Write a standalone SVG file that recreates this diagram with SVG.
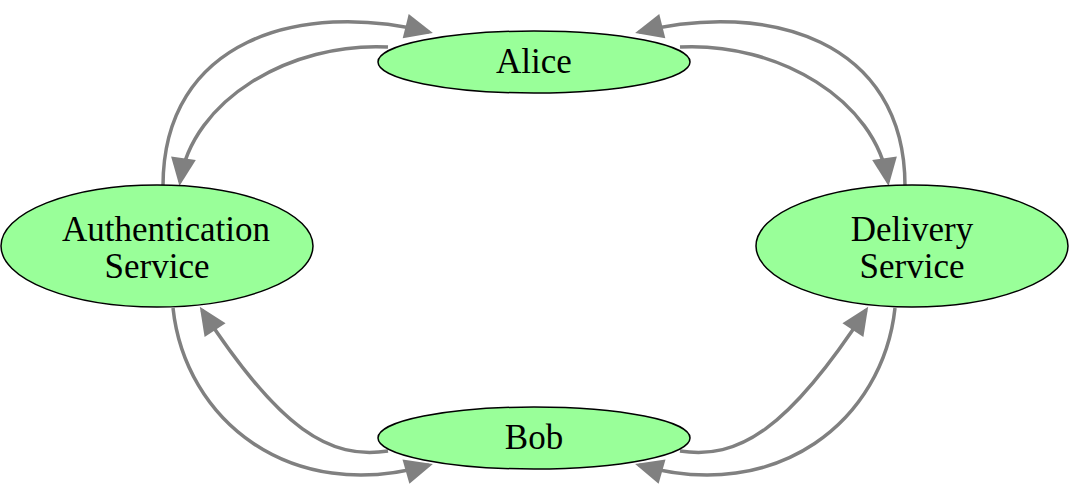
<svg xmlns="http://www.w3.org/2000/svg" width="1080" height="497" viewBox="0 0 1080 497">
<style>
.node ellipse{fill:#99ff99;stroke:#000;stroke-width:1.5}
.node text{font-family:"Liberation Serif","DejaVu Serif",serif;font-size:35px;fill:#000;text-anchor:middle}
.edge{fill:none;stroke:#808080;stroke-width:3.5}
</style>
<defs>
<marker id="arr" markerUnits="userSpaceOnUse" markerWidth="40" markerHeight="40" viewBox="-30 -15 40 30" refX="0" refY="0" orient="auto" overflow="visible">
<path d="M-24,-12.5 L4,0 L-24,12.5 Z" fill="#808080"/>
</marker>
</defs>
<g id="connectors">
<path class="edge" marker-end="url(#arr)" d="M163,186 C163,40 300,0 429,32"/>
<path class="edge" marker-end="url(#arr)" d="M388,47 C290,42 192,100 180,182"/>
<path class="edge" marker-end="url(#arr)" d="M905,186 C905,40 768,0 639,32"/>
<path class="edge" marker-end="url(#arr)" d="M680,47 C778,42 876,100 888,182"/>
<path class="edge" marker-end="url(#arr)" d="M173,308 C185,420 290,505 429,465"/>
<path class="edge" marker-end="url(#arr)" d="M388,451 C330,460 280,430 202,310"/>
<path class="edge" marker-end="url(#arr)" d="M895,308 C883,420 778,505 639,465"/>
<path class="edge" marker-end="url(#arr)" d="M680,451 C738,460 788,430 866,310"/>
</g>
<g id="alice" class="node">
<ellipse cx="534" cy="62" rx="156" ry="31"/>
<text x="534" y="73">Alice</text>
</g>
<g id="bob" class="node">
<ellipse cx="534" cy="438" rx="156" ry="31"/>
<text x="534" y="449">Bob</text>
</g>
<g id="auth" class="node">
<ellipse cx="157" cy="246" rx="156" ry="61"/>
<text x="166" y="241">Authentication</text>
<text x="157" y="278">Service</text>
</g>
<g id="delivery" class="node">
<ellipse cx="912" cy="246" rx="156" ry="61"/>
<text x="912" y="241">Delivery</text>
<text x="912" y="278">Service</text>
</g>
</svg>
